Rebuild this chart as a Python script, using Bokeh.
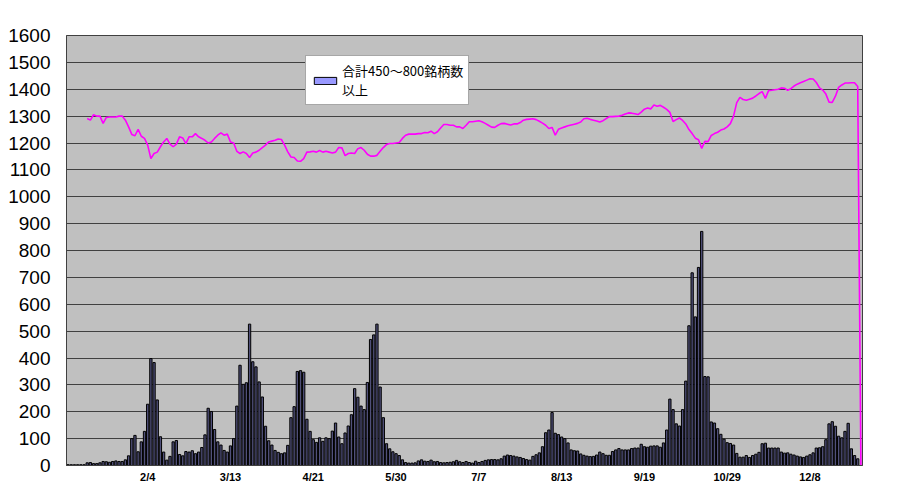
import math
from bokeh.plotting import figure
from bokeh.models import Range1d, FixedTicker, Legend, LegendItem, ColumnDataSource
from bokeh.embed import file_html
from bokeh.resources import INLINE

nan = float("nan")

# ---- data ----
bar_values = [
    3, 3, 3, 3, 3, 3,
    10, 11, 7, 7, 10, 15, 14, 12, 15, 17, 15, 15, 21,
    36,
    100, 112, 51, 88, 127, 228, 398, 383, 244, 107, 50, 20, 34, 88, 93, 41, 36, 52, 50, 55,
    44, 50, 67, 114, 213, 201, 134, 88, 76, 56,
    50, 73, 100, 221, 373, 302, 308, 526, 386, 367, 311, 255, 146, 92, 76, 56, 49, 44, 47, 75,
    178, 219, 350, 353, 347, 172, 127, 96, 86, 103, 90, 103, 100, 128, 158, 106, 81, 121, 147, 189,
    286, 254, 221, 208, 309, 469, 486, 526, 292, 178, 81,
    62, 51, 44, 37, 21, 11, 9, 9, 10, 17, 21, 16, 15, 20, 14, 15, 11, 10, 11, 12,
    14, 19, 14, 11, 15, 11, 9, 16, 11, 15, 19, 21, 22, 22, 21, 25, 35, 39, 37, 35,
    32, 30, 26, 22, 20, 34, 40, 47, 70,
    122, 132, 197, 120, 115, 106, 100, 84, 58, 55, 54, 43, 38, 35, 33, 34, 39, 50, 44, 38,
    38, 52, 58, 63, 58, 58, 58, 63, 65, 65, 79, 70, 68, 72, 73, 73, 68, 84, 132, 247,
    208, 155, 147, 208, 314, 520, 717, 553, 737, 871, 331,
    330, 162, 158, 137, 116, 98, 85, 82, 76, 45, 31, 31, 37, 30, 37, 42, 49, 81, 83, 65,
    65, 65, 65, 50, 46, 47, 42, 39, 35, 32, 30, 35, 40, 47, 65, 66, 70, 96, 155, 163,
    146, 109, 103, 127, 157, 62, 37, 25,
    0,
]

line_values = [
    nan, nan, nan, nan, nan, nan,
    1291, 1285, 1305, 1300, 1300, 1273, 1295, 1297, 1297, 1297, 1300, 1300, 1285, 1260,
    1232, 1227, 1251, 1225, 1217, 1192, 1142, 1161, 1166, 1186, 1204, 1217, 1196, 1186, 1196, 1223,
    1219, 1198, 1223, 1223, 1235, 1223, 1217, 1210, 1200, 1204, 1217, 1229, 1238, 1229, 1233, 1204,
    1200, 1169, 1161, 1167, 1161, 1146, 1163, 1166, 1173, 1183, 1192, 1204, 1207, 1210, 1215, 1213,
    1192, 1167, 1148, 1146, 1133, 1132, 1142, 1166, 1167, 1169, 1166, 1172, 1166, 1169, 1166, 1163,
    1166, 1183, 1182, 1153, 1161, 1163, 1161, 1179, 1183, 1173, 1158, 1151, 1151, 1154, 1169, 1183,
    1194, 1198, 1198, 1200, 1202, 1217, 1229, 1233, 1233, 1233, 1235, 1235, 1239, 1238, 1244, 1235,
    1242, 1256, 1269, 1269, 1266, 1266, 1260, 1260, 1254, 1266, 1279, 1279, 1281, 1283, 1279, 1273,
    1266, 1259, 1258, 1266, 1272, 1273, 1270, 1267, 1271, 1271, 1276, 1285, 1288, 1289, 1290, 1287,
    1281, 1274, 1266, 1254, 1258, 1229, 1251, 1256, 1260, 1264, 1267, 1270, 1273, 1278, 1290, 1292,
    1288, 1285, 1282, 1278, 1283, 1291, 1298, 1298, 1299, 1300, 1303, 1308, 1312, 1311, 1309, 1306,
    1315, 1326, 1330, 1327, 1341, 1337, 1340, 1333, 1325, 1314, 1280, 1287, 1293, 1284, 1271, 1250,
    1235, 1218, 1212, 1180, 1206, 1205, 1228, 1235, 1240, 1248, 1252, 1260, 1272, 1300, 1350, 1370,
    1362, 1359, 1363, 1367, 1375, 1384, 1391, 1366, 1395, 1396, 1398, 1400, 1405, 1404, 1396, 1402,
    1412, 1419, 1424, 1429, 1434, 1439, 1438, 1425, 1405, 1397, 1382, 1352, 1351, 1374, 1407, 1416,
    1423, 1423, 1424, 1424, 1410, 0,
]

tick_positions = [25, 51, 77, 103, 129, 155, 181, 207, 233]
tick_labels = ["2/4", "3/13", "4/21", "5/30", "7/7", "8/13", "9/19", "10/29", "12/8"]
y_ticks = [0, 100, 200, 300, 400, 500, 600, 700, 800, 900, 1000, 1100, 1200, 1300, 1400, 1500, 1600]
legend_label = "合計450～800銘柄数\n以上"

n = len(bar_values)
src = ColumnDataSource(dict(x=list(range(n)), bar=bar_values, line=line_values[:n]))

p = figure(width=915, height=493, output_backend="svg", toolbar_location=None,
           x_range=Range1d(-0.5, n - 0.5), y_range=Range1d(0, 1600),
           min_border_left=66, min_border_right=53, min_border_top=35, min_border_bottom=28)

p.background_fill_color = "#C0C0C0"
p.border_fill_color = "white"
p.outline_line_color = "#404040"
p.outline_line_width = 1

bars = p.vbar(x="x", top="bar", width=0.72, source=src,
              fill_color="#50507A", line_color="black", line_width=1)
# legend swatch for the bar series, in its legend colour (draws no bar itself)
swatch = p.vbar(x=[0], top=[nan], width=0.72, fill_color="#9999FF",
                line_color="black", line_width=1)
p.line(x="x", y="line", source=src, line_color="#FF00FF", line_width=1.6)

p.xgrid.visible = False
p.ygrid.ticker = FixedTicker(ticks=y_ticks)
p.ygrid.grid_line_color = "#404040"
p.ygrid.grid_line_width = 1.2

p.yaxis.ticker = FixedTicker(ticks=y_ticks)
p.yaxis.major_label_text_font = "Liberation Sans"
p.yaxis.major_label_text_font_size = "19px"
p.yaxis.major_label_text_color = "black"
p.yaxis.major_tick_out = 0
p.yaxis.major_tick_in = 0
p.yaxis.minor_tick_out = 0
p.yaxis.minor_tick_in = 0
p.yaxis.major_label_standoff = 16
p.yaxis.axis_line_color = "#404040"

p.xaxis.ticker = FixedTicker(ticks=tick_positions)
p.xaxis.major_label_overrides = {pos: lab for pos, lab in zip(tick_positions, tick_labels)}
p.xaxis.major_label_text_font = "Liberation Sans"
p.xaxis.major_label_text_font_size = "11px"
p.xaxis.major_label_text_font_style = "bold"
p.xaxis.major_label_text_color = "black"
p.xaxis.major_tick_out = 0
p.xaxis.major_tick_in = 0
p.xaxis.minor_tick_out = 0
p.xaxis.minor_tick_in = 0
p.xaxis.major_label_standoff = 5
p.xaxis.axis_line_color = "#404040"

legend = Legend(items=[LegendItem(label=legend_label, renderers=[swatch])],
                location=(239, 360), orientation="vertical")
legend.label_text_font = "Noto Sans CJK JP"
legend.label_text_font_size = "13px"
legend.label_text_color = "black"
legend.glyph_width = 28
legend.glyph_height = 9
legend.padding = 5
legend.margin = 0
legend.label_standoff = 3
legend.border_line_color = "#505050"
legend.border_line_width = 1
legend.background_fill_color = "white"
legend.background_fill_alpha = 1
legend.label_height = 16
p.add_layout(legend, "center")

open("out.html", "w").write(file_html(p, INLINE))
